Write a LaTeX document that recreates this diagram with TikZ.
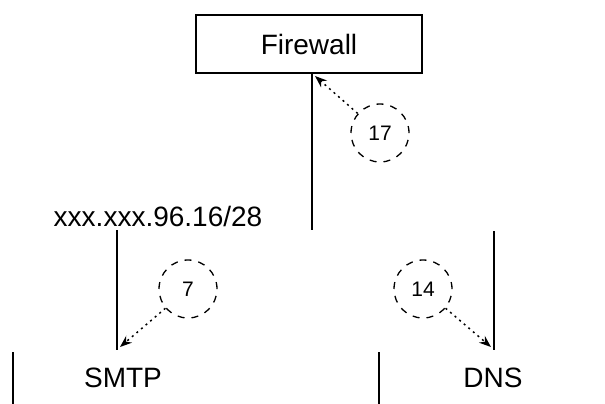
\documentclass[tikz,border=0pt]{standalone}
\usepackage{fontspec}
\setmainfont{Liberation Sans}
\usetikzlibrary{positioning,arrows.meta}

\begin{document}
\begin{tikzpicture}[x=1pt, y=-1pt,
    rect/.style={rectangle, draw=black, line width=1.5pt, minimum width=226pt, minimum height=58pt, font=\fontsize{28}{30}\selectfont},
    lbl/.style={inner sep=0pt, font=\fontsize{28}{30}\selectfont},
    num/.style={circle, draw=black, dash pattern=on 7pt off 7pt, line width=1.3pt, minimum size=58pt, inner sep=0pt, font=\fontsize{21}{23}\selectfont},
    link/.style={line width=1.5pt},
    ref/.style={dash pattern=on 2pt off 4pt, line width=1.5pt, -{Stealth[length=12pt, width=9pt]}}]
    \useasboundingbox (0,0) rectangle (605,404);

    % Nodes
    \node[rect] (firewall) at (309,44) {Firewall};
    \node[num] (n17) at (380,133) {17};
    \node[lbl] (subnet) at (158,216) {xxx.xxx.96.16/28};
    \node[num] (n7) at (188,289) {7};
    \node[num] (n14) at (423,289) {14};
    \node[lbl] (smtp) at (123,378) {SMTP};
    \node[lbl] (dns) at (493,378) {DNS};

    % Line ends
    \coordinate (fwhit) at (315,76);
    \coordinate (fwdrop) at (312,230);
    \coordinate (subnetdrop) at (117,230);
    \coordinate (smtptop) at (117,350);
    \coordinate (smtphit) at (120,347);
    \coordinate (dnsdrop) at (494,231);
    \coordinate (dnstop) at (494,350);
    \coordinate (dnshit) at (491,347);
    \coordinate (smtpedge) at (13,352);
    \coordinate (dnsedge) at (379,352);

    % Lines
    \draw[link] (firewall.south -| fwdrop) -- (fwdrop);
    \draw[link] (subnetdrop) -- (smtptop);
    \draw[link] (dnsdrop) -- (dnstop);
    \draw[link] (smtpedge) -- ++(0,52);
    \draw[link] (dnsedge) -- ++(0,52);

    % Arrows
    \draw[ref] (n17) -- (fwhit);
    \draw[ref] (n7) -- (smtphit);
    \draw[ref] (n14) -- (dnshit);
\end{tikzpicture}
\end{document}
